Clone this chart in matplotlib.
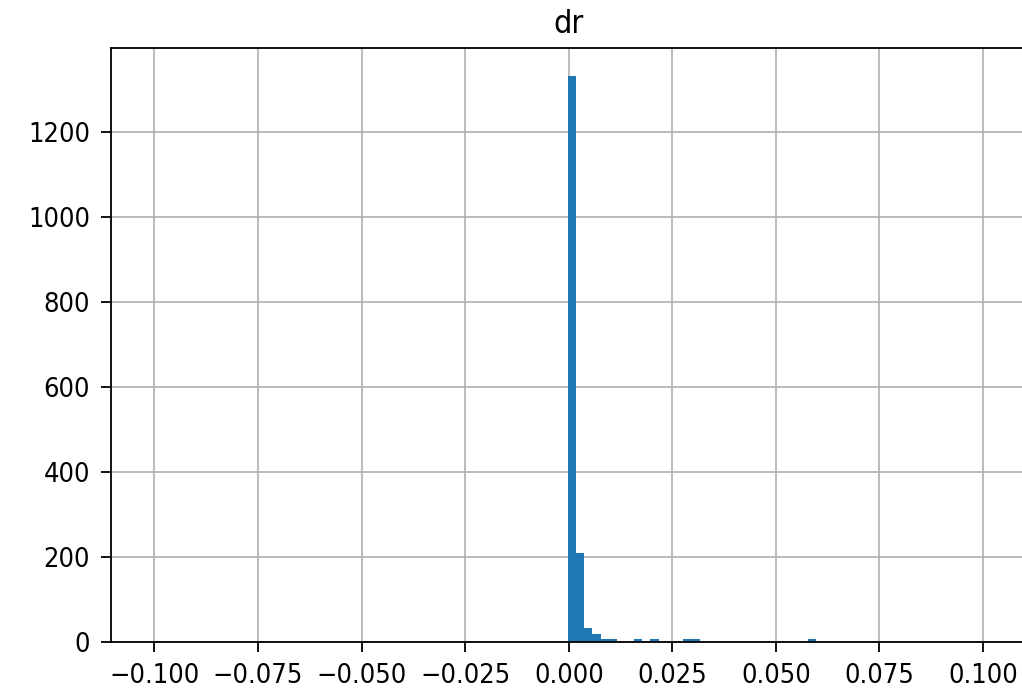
import numpy as np
import matplotlib
matplotlib.use('Agg')
import matplotlib.pyplot as plt

# histogram of column "dr": counts per bin
titulo = 'dr'
borde_inicial = -0.0003
borde_final = 0.0597
conteos = [1332, 210, 32, 20, 8, 8, 0, 0, 7, 0,
           7, 0, 0, 0, 7, 7, 0, 0, 0, 0,
           0, 0, 0, 0, 0, 0, 0, 0, 0, 7]
xticks = [-0.100, -0.075, -0.050, -0.025, 0.000, 0.025, 0.050, 0.075, 0.100]
yticks = [0, 200, 400, 600, 800, 1000, 1200]

bordes = np.linspace(borde_inicial, borde_final, len(conteos) + 1)
centros = (bordes[:-1] + bordes[1:]) / 2

# the reference text looks taller than wide -> condensed DejaVu
plt.rcParams['font.family'] = 'DejaVu Sans'
plt.rcParams['font.stretch'] = 'condensed'

fig = plt.figure(figsize=(10.22, 6.9), dpi=100)
ax = fig.add_axes([111 / 1022, 48 / 690, 915.5 / 1022, 594 / 690])
ax.hist(centros, bins=bordes, weights=conteos, color='#1f77b4')
ax.set_xlim(-0.1105, 0.1105)
ax.set_xticks(xticks)
ax.set_xticklabels([f'{t:.3f}'.replace('-', '\u2212') for t in xticks])
ax.set_yticks(yticks)
ax.grid(True, color='#b0b0b0', linewidth=1.2)
ax.set_axisbelow(True)
ax.tick_params(labelsize=19.5, width=1.3, length=7, pad=8)
for s in ax.spines.values():
    s.set_linewidth(1.3)
ax.set_title(titulo, fontsize=23, pad=11)

fig.savefig('out.png', dpi=100)
